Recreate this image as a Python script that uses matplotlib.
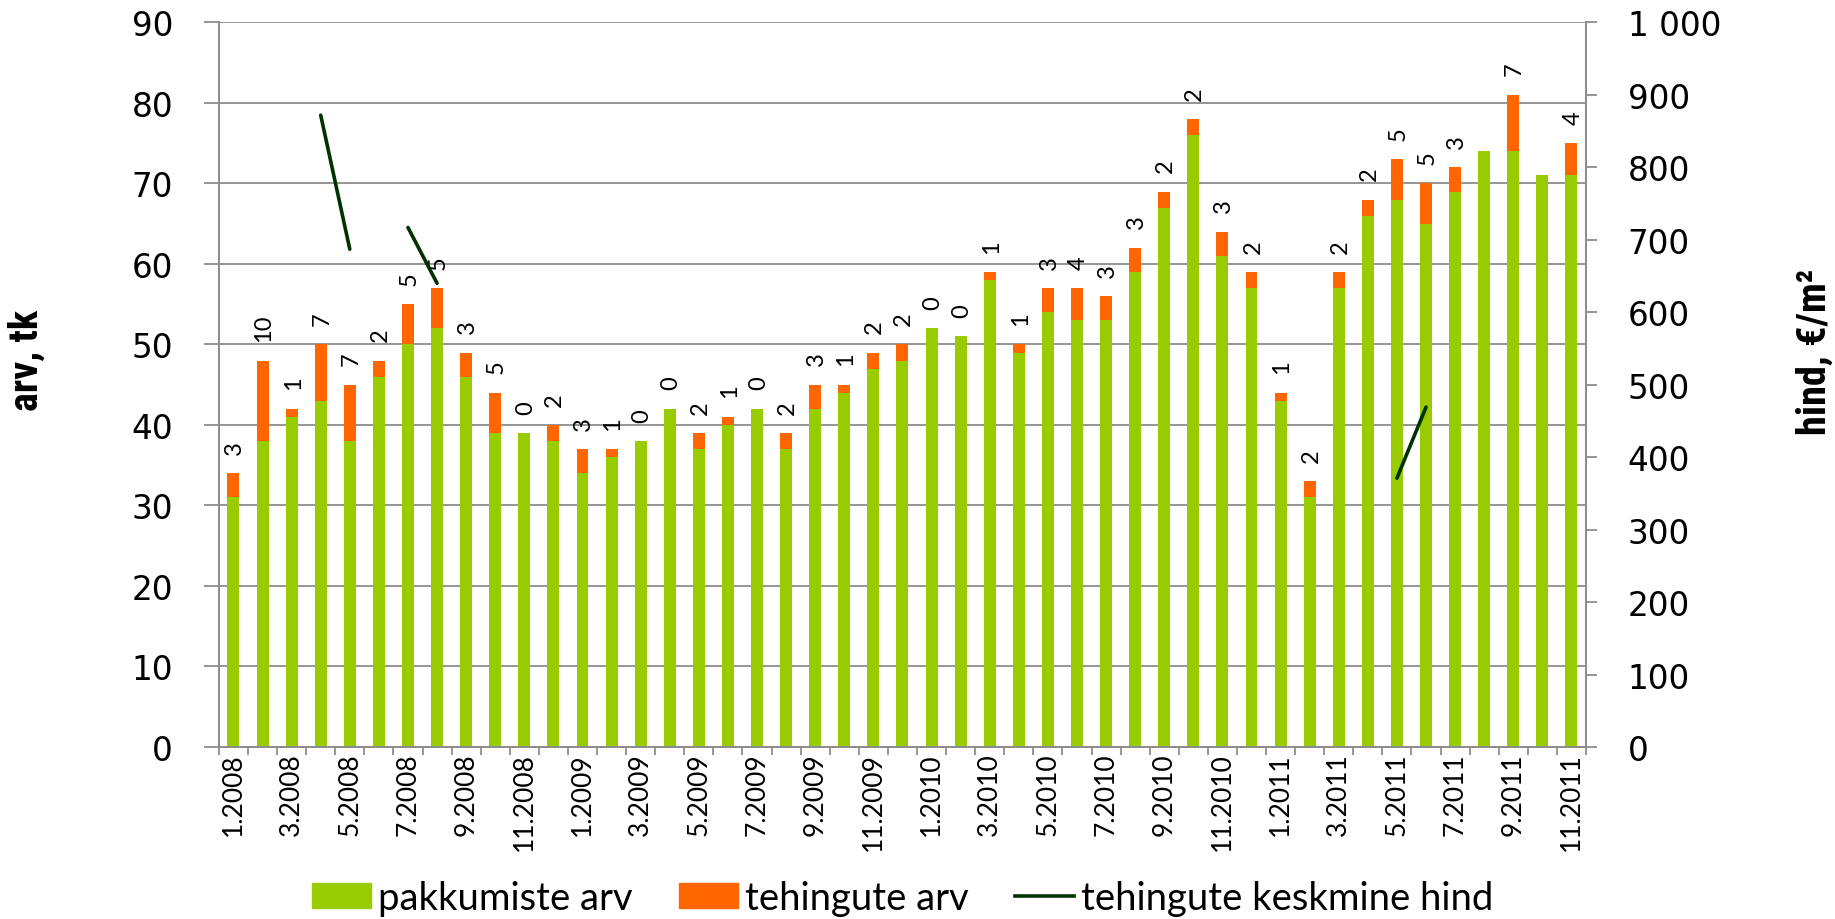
import numpy as np
import matplotlib
matplotlib.use('Agg')
import matplotlib.pyplot as plt
from matplotlib.patches import Patch
from matplotlib.lines import Line2D
from matplotlib.ticker import FixedLocator, FuncFormatter

nan = np.nan

# Monthly counts, 1.2008 ... 11.2011
months = ['%d.%d' % (m, y) for y in range(2008, 2012) for m in range(1, 13)][:47]
offers = [31, 38, 41, 43, 38, 46, 50, 52, 46, 39, 39, 38,
          34, 36, 38, 42, 37, 40, 42, 37, 42, 44, 47, 48,
          52, 51, 58, 49, 54, 53, 53, 59, 67, 76, 61, 57,
          43, 31, 57, 66, 68, 65, 69, 74, 74, 71, 71]
deals = [3, 10, 1, 7, 7, 2, 5, 5, 3, 5, 0, 2,
         3, 1, 0, 0, 2, 1, 0, 2, 3, 1, 2, 2,
         0, 0, 1, 1, 3, 4, 3, 3, 2, 2, 3, 2,
         1, 2, 2, 2, 5, 5, 3, nan, 7, nan, 4]
# average deal price, EUR/m2 (only a few months have it)
price = [nan, nan, nan, 872, 687, nan, 717, 640, nan, nan, nan, nan,
         nan, nan, nan, nan, nan, nan, nan, nan, nan, nan, nan, nan,
         nan, nan, nan, nan, nan, nan, nan, nan, nan, nan, nan, nan,
         nan, nan, nan, nan, 371, 469, nan, nan, nan, nan, nan]

seriesNames = ['pakkumiste arv', 'tehingute arv', 'tehingute keskmine hind']
GREEN = '#99cc00'
ORANGE = '#ff6600'
LINE = '#003300'
GRID = '#8c8c8c'
SANS = ['Lato', 'DejaVu Sans']
NARROW = ['Roboto Condensed', 'DejaVu Sans']

plt.rcParams['ytick.major.pad'] = 22
plt.rcParams['ytick.labelsize'] = 23.5


def thousands(v, pos):
    return '{:,.0f}'.format(v).replace(',', ' ')


def styleSpines(axis):
    for s in ['left', 'right', 'bottom']:
        axis.spines[s].set_color(GRID)
        axis.spines[s].set_linewidth(1.3)
    axis.spines['top'].set_visible(False)


def main():
    x = np.arange(len(months))
    offersArr = np.array(offers, dtype=float)
    dealsArr = np.array(deals, dtype=float)
    priceArr = np.array(price, dtype=float)

    fig = plt.figure(figsize=(18.35, 9.2), dpi=100)
    ax = fig.add_axes([0.1193, 0.187, 0.745, 0.7875])
    ax.bar(x, offersArr, width=0.41, color=GREEN, zorder=2)
    ax.bar(x, dealsArr, width=0.41, bottom=offersArr, color=ORANGE, zorder=2)

    # deal count written above each stacked bar
    for i in x:
        if np.isnan(dealsArr[i]):
            continue
        ax.annotate('%d' % dealsArr[i], (i, offersArr[i] + dealsArr[i]),
                    xytext=(1, 14), textcoords='offset points',
                    rotation=90, ha='center', va='bottom',
                    fontsize=17, family=SANS)

    ax.set_xlim(-0.5, len(months) - 0.5)
    ax.set_ylim(0, 90)
    ax.set_yticks(np.arange(0, 91, 10))
    ax.yaxis.grid(True, color=GRID, lw=1.3, zorder=0)
    ax.set_axisbelow(True)

    # ticks between the months, a label on every second one
    ax.xaxis.set_major_locator(FixedLocator(x[::2]))
    ax.set_xticklabels(months[::2], rotation=90, fontsize=19, family=SANS)
    ax.xaxis.set_minor_locator(FixedLocator(np.arange(len(months) + 1) - 0.5))
    ax.tick_params(axis='x', which='major', length=0, pad=4)
    ax.tick_params(axis='x', which='minor', length=6, width=1.3, color=GRID)
    ax.tick_params(axis='y', length=11, width=1.3, color=GRID)
    styleSpines(ax)

    ax2 = ax.twinx()
    ax2.plot(x, priceArr, color=LINE, lw=2.6, solid_capstyle='round', zorder=3)
    ax2.set_ylim(0, 1000)
    ax2.set_yticks(np.arange(0, 1001, 100))
    ax2.yaxis.set_major_formatter(FuncFormatter(thousands))
    ax2.tick_params(axis='y', length=8, width=1.3, color=GRID)
    styleSpines(ax2)

    titleFont = dict(fontsize=29, fontweight='bold', family=NARROW)
    fig.text(0.0147, 0.608, 'arv, tk', rotation=90, ha='center', va='center',
             **titleFont)
    fig.text(0.989, 0.617, 'hind, €/m²', rotation=90, ha='center',
             va='center', **titleFont)

    handles = [Patch(color=GREEN), Patch(color=ORANGE),
               Line2D([], [], color=LINE, lw=2.6)]
    fig.legend(handles, seriesNames, loc='center', ncol=3, frameon=False,
               bbox_to_anchor=(0.492, 0.023), handlelength=1.55,
               handleheight=0.65, handletextpad=0.19, columnspacing=1.2,
               prop={'family': SANS, 'size': 27.5})

    fig.savefig('out.png', dpi=100)
    return 0


if __name__ == '__main__':
    main()
